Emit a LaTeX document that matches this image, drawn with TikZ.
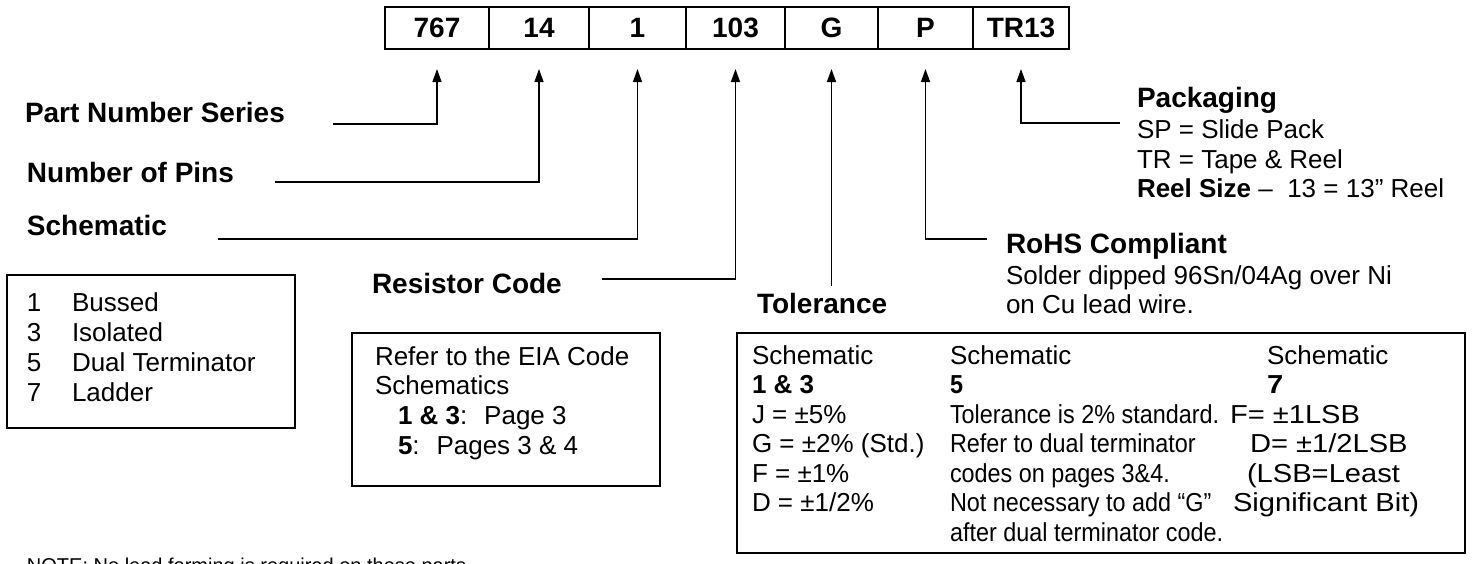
\documentclass[tikz,border=0pt]{standalone}
\usepackage{fontspec}
\setmainfont{Liberation Sans}
\newfontfamily\narrowsans[FakeStretch=0.9]{Liberation Sans}
\newfontfamily\widesans[FakeStretch=1.12]{Liberation Sans}
\usetikzlibrary{arrows.meta,calc}

\begin{document}
\begin{tikzpicture}[x=1pt, y=1pt,
    every node/.style={inner sep=0pt, outer sep=0pt},
    cell/.style={draw, line width=2.4pt, minimum height=42pt,
                 font=\fontsize{28}{32}\selectfont\bfseries},
    heading/.style={anchor=base west, font=\fontsize{28}{32}\selectfont\bfseries},
    bodytext/.style={anchor=base west, font=\fontsize{26}{30}\selectfont},
    tolwide/.style={anchor=base west, font=\fontsize{26}{30}\selectfont},
    tolnarrow/.style={anchor=base west, font=\narrowsans\fontsize{26}{30}\selectfont},
    tolspread/.style={anchor=base west, font=\widesans\fontsize{26}{30}\selectfont},
    infobox/.style={draw, line width=1.8pt, anchor=north west},
    pointer/.style={line width=1.4pt, -{Triangle[length=13pt, width=9pt]}}]
\useasboundingbox (0,0) rectangle (1476,-563);

\foreach \name/\val/\l/\r in {series/767/385/489, pins/14/489/589, schem/1/589/686,
    rcode/103/686/785, toler/G/785/878, rohs/P/878/973, pack/TR13/973/1069}
  \node[cell, minimum width=\r-\l] (\name) at ({(\l+\r)/2},-28) {\val};
\foreach \name in {series,pins,schem,rcode,toler,rohs,pack}
  \coordinate (\name-tip) at ($(\name.south)+(0,-20)$);

\node[heading] (seriesname) at (25,-122) {Part Number Series};
\node[heading] (pinsname) at (27,-182) {Number of Pins};
\node[heading] (schemname) at (27,-235) {Schematic};
\node[heading] (rcodename) at (372,-293) {Resistor Code};
\node[heading] (tolername) at (757,-313) {Tolerance};
\node[heading] (rohsname) at (1006,-253) {RoHS Compliant};
\node[heading] (packname) at (1137,-107) {Packaging};

\coordinate (seriesfoot) at (333,-124);
\coordinate (pinsfoot) at (275,-182);
\coordinate (schemfoot) at (218,-239);
\coordinate (rcodefoot) at (602,-279);
\coordinate (tolerfoot) at ($(toler-tip)+(0,-217)$);
\coordinate (rohsfoot) at (987,-239);
\coordinate (packfoot) at (1120,-123);
\draw[pointer] (seriesfoot) -| (series-tip);
\draw[pointer] (pinsfoot) -| (pins-tip);
\draw[pointer] (schemfoot) -| (schem-tip);
\draw[pointer] (rcodefoot) -| (rcode-tip);
\draw[pointer] (tolerfoot) -- (toler-tip);
\draw[pointer] (rohsfoot) -| (rohs-tip);
\draw[pointer] (packfoot) -| (pack-tip);

\node[bodytext] (pack1) at (1137,-138) {SP = Slide Pack};
\node[bodytext] (pack2) at (1137,-168) {TR = Tape \& Reel};
\node[bodytext] (pack3) at (1137,-197) {\textbf{Reel Size} –~ 13 = 13” Reel};
\node[bodytext] (rohs1) at (1006,-284) {Solder dipped 96Sn/04Ag over Ni};
\node[bodytext] (rohs2) at (1006,-313) {on Cu lead wire.};

\node[infobox, minimum width=288, minimum height=153] (schembox) at (7,-275) {};
\foreach \n/\t [count=\i] in {1/Bussed, 3/Isolated, 5/Dual Terminator, 7/Ladder} {
  \node[bodytext] (schnum\i) at (27,{-311-30*(\i-1)}) {\n};
  \node[bodytext] (schtxt\i) at (72,{-311-30*(\i-1)}) {\t};
}

\node[infobox, minimum width=308, minimum height=153] (codebox) at (352,-333) {};
\node[bodytext] (code1) at (375,-365) {Refer to the EIA Code};
\node[bodytext] (code2) at (375,-394) {Schematics};
\node[bodytext] (code3) at (398,-424) {\textbf{1 \& 3}:~ Page 3};
\node[bodytext] (code4) at (398,-454) {\textbf{5}:~ Pages 3 \& 4};

\node[infobox, minimum width=728, minimum height=220] (tolbox) at (737,-333) {};
\node[tolwide] (tola1) at (752,-364) {Schematic};
\node[tolwide] (tolb1) at (950,-364) {Schematic};
\node[tolwide] (tolc1) at (1267,-364) {Schematic};
\foreach \ca/\cb/\cc/\xc [count=\i from 2] in {
    {\textbf{1 \& 3}}/{\textbf{5}}/{\textbf{7}}/1267,
    {J = ±5\%}/{Tolerance is 2\% standard.}/{F= ±1LSB}/1230,
    {G = ±2\% (Std.)}/{Refer to dual terminator}/{D= ±1/2LSB}/1250,
    {F = ±1\%}/{codes on pages 3\&4.}/{(LSB=Least}/1247,
    {D = ±1/2\%}/{Not necessary to add “G”}/{Significant Bit)}/1233,
    {}/{after dual terminator code.}/{}/1233} {
  \node[tolwide] (tola\i) at (752,{-364-29.5*(\i-1)}) {\ca};
  \node[tolnarrow] (tolb\i) at (950,{-364-29.5*(\i-1)}) {\cb};
  \node[tolspread] (tolc\i) at (\xc,{-364-29.5*(\i-1)}) {\cc};
}

\node[anchor=base west, font=\fontsize{20}{24}\selectfont] (note) at (27,-572)
  {NOTE: No lead forming is required on these parts};
\end{tikzpicture}
\end{document}
